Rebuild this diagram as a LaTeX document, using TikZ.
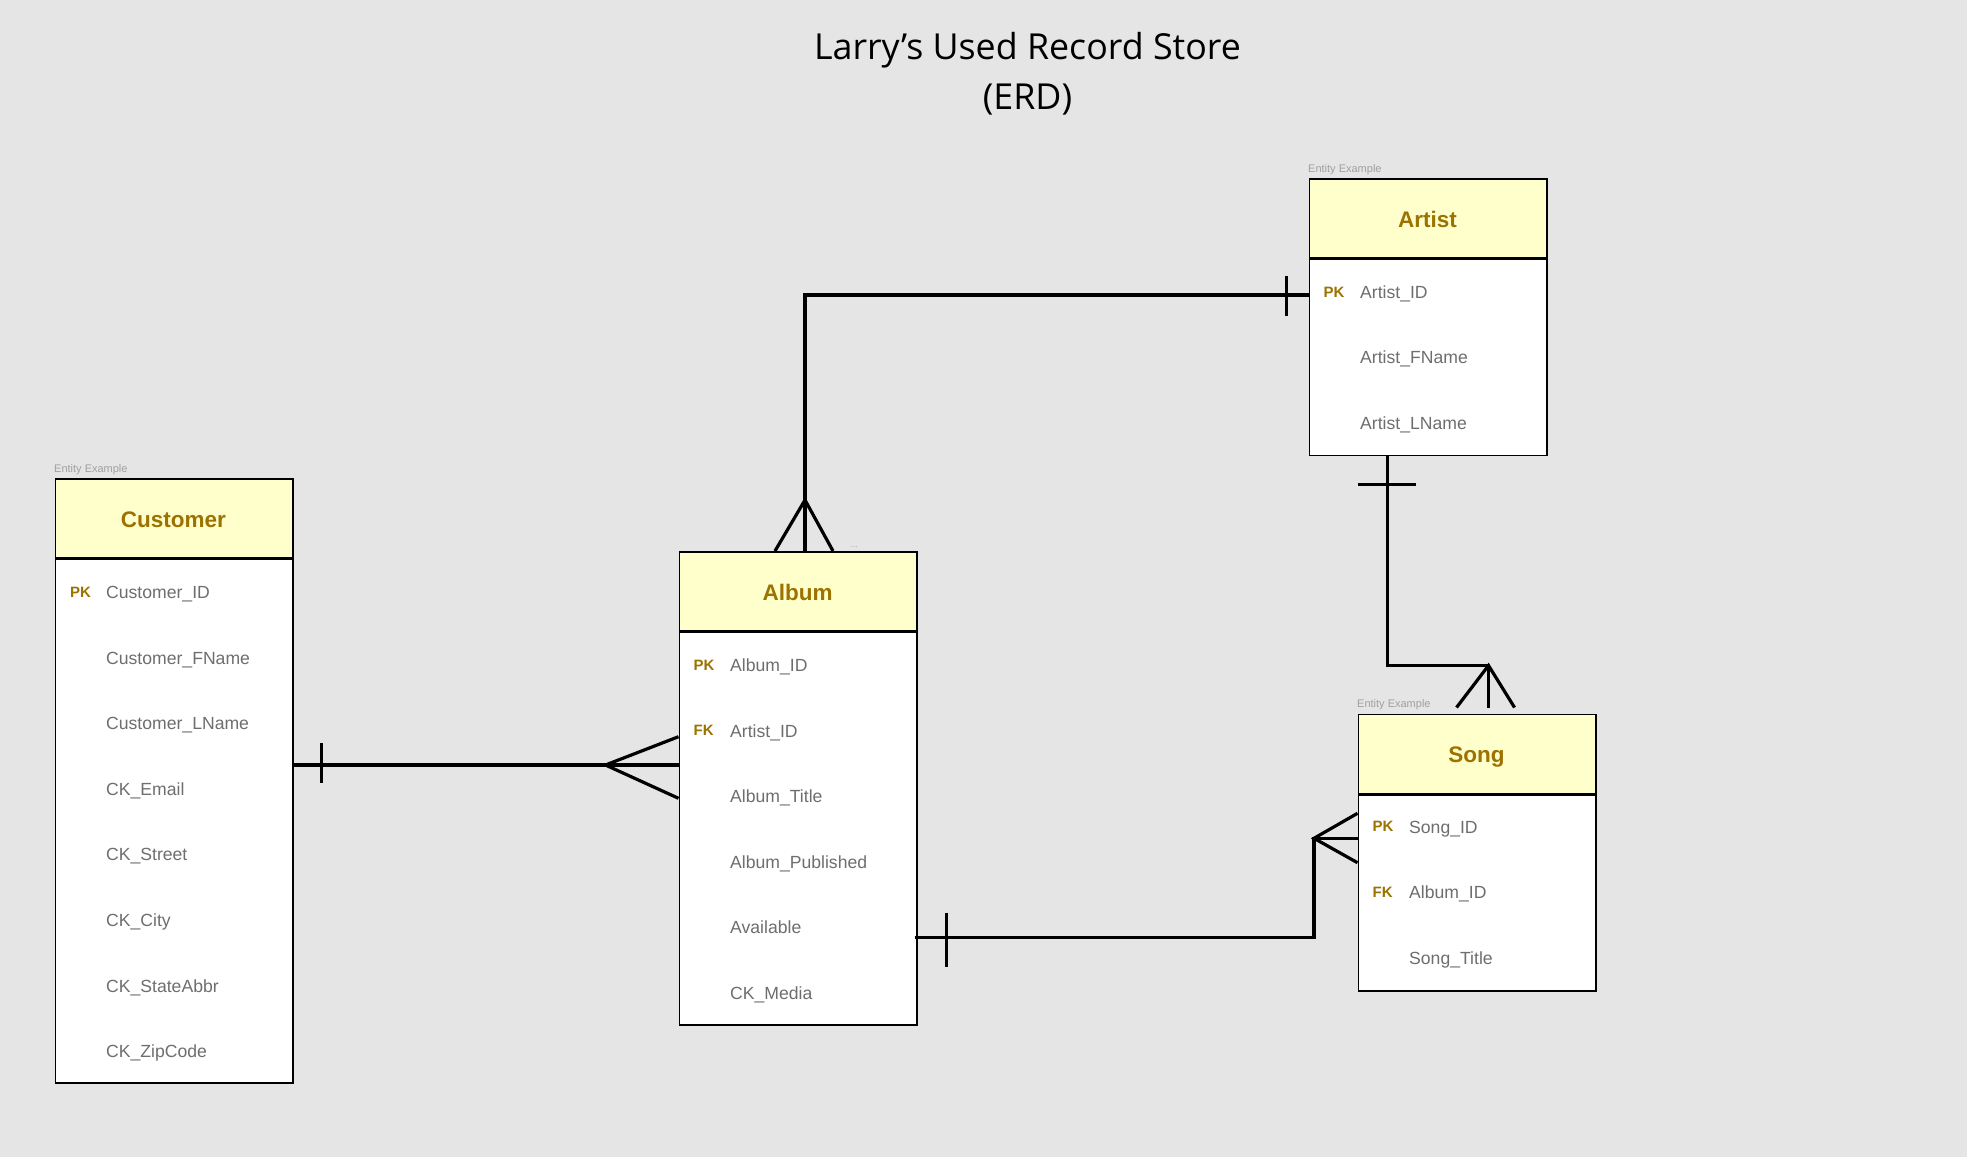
\documentclass[tikz,border=0pt]{standalone}
\usepackage{fontspec}
\setmainfont{Liberation Sans}
\newfontfamily\titlefont{Open Sans}
\usetikzlibrary{calc}
\definecolor{bg}{HTML}{E5E5E5}
\definecolor{hdrfill}{HTML}{FFFFCC}
\definecolor{gold}{HTML}{9C7200}
\definecolor{attrgray}{HTML}{6E6E6E}
\definecolor{taggray}{HTML}{A0A0A0}
\begin{document}
\begin{tikzpicture}[x=1pt,y=-1pt,
  hdr/.style={draw=black, line width=1.6pt, fill=hdrfill, minimum width=237.5pt, minimum height=79pt, anchor=north west, inner sep=0pt},
  bodybox/.style={draw=black, line width=1.6pt, fill=white, minimum width=237.5pt, anchor=north west, inner sep=0pt},
  enttitle/.style={font=\fontsize{22.5}{27}\selectfont\bfseries, text=gold, anchor=base, inner sep=0pt},
  attr/.style={font=\fontsize{17.6}{21}\selectfont, text=attrgray, anchor=base west, inner sep=0pt},
  keytag/.style={font=\fontsize{15}{17}\selectfont\bfseries, text=gold, anchor=base west, inner sep=0pt},
  tag/.style={font=\fontsize{11}{13}\selectfont, text=taggray, anchor=base west, inner sep=0pt},
  maintitle/.style={font=\titlefont\fontsize{35.8}{40}\selectfont, text=black, anchor=base, inner sep=0pt},
  conn/.style={line width=3.2pt, draw=black},
]
\fill[bg] (0,0) rectangle (1967,1157);
\useasboundingbox (0,0) rectangle (1967,1157);

% title
\node[maintitle] (t1) at (1027.5,59) {Larry’s Used Record Store};
\node[maintitle] (t2) at (1027.5,109) {(ERD)};

% Customer
\node[tag] (custtag) at (54,472) {Entity Example};
\node[hdr] (cust-h) at (54.5,478) {};
\node[enttitle] (cust-t) at (173.5,527) {Customer};
\node[bodybox, minimum height=523.5pt] (cust-b) at (cust-h.south west) {};
\node[keytag] (cust-pk) at (70,597) {PK};
\node[attr] (c1) at (106,598.5) {Customer\_ID};
\node[attr] (c2) at (106,664.1) {Customer\_FName};
\node[attr] (c3) at (106,729.7) {Customer\_LName};
\node[attr] (c4) at (106,795.3) {CK\_Email};
\node[attr] (c5) at (106,860.9) {CK\_Street};
\node[attr] (c6) at (106,926.5) {CK\_City};
\node[attr] (c7) at (106,992.1) {CK\_StateAbbr};
\node[attr] (c8) at (106,1057.7) {CK\_ZipCode};

% Album
\node[tag, font=\fontsize{8}{9}\selectfont] (albdots) at (851,547) {...};
\node[hdr] (alb-h) at (678.5,551) {};
\node[enttitle] (alb-t) at (797.5,600) {Album};
\node[bodybox, minimum height=392.5pt] (alb-b) at (alb-h.south west) {};
\node[keytag] (alb-pk) at (693.5,670) {PK};
\node[keytag] (alb-fk) at (693.5,735.6) {FK};
\node[attr] (a1) at (730,671.5) {Album\_ID};
\node[attr] (a2) at (730,737.1) {Artist\_ID};
\node[attr] (a3) at (730,802.7) {Album\_Title};
\node[attr] (a4) at (730,868.3) {Album\_Published};
\node[attr] (a5) at (730,933.9) {Available};
\node[attr] (a6) at (730,999.5) {CK\_Media};

% Artist
\node[tag] (arttag) at (1308,172) {Entity Example};
\node[hdr] (art-h) at (1308.5,178) {};
\node[enttitle] (art-t) at (1427.5,227) {Artist};
\node[bodybox, minimum height=196pt] (art-b) at (art-h.south west) {};
\node[keytag] (art-pk) at (1323.5,297) {PK};
\node[attr] (r1) at (1360,298.2) {Artist\_ID};
\node[attr] (r2) at (1360,363.8) {Artist\_FName};
\node[attr] (r3) at (1360,429.4) {Artist\_LName};

% Song
\node[tag] (songtag) at (1357,707.5) {Entity Example};
\node[hdr] (song-h) at (1357.5,713.5) {};
\node[enttitle] (song-t) at (1476.5,762) {Song};
\node[bodybox, minimum height=196pt] (song-b) at (song-h.south west) {};
\node[keytag] (song-pk) at (1372.5,831.5) {PK};
\node[keytag] (song-fk) at (1372.5,897.1) {FK};
\node[attr] (s1) at (1409,833) {Song\_ID};
\node[attr] (s2) at (1409,898.6) {Album\_ID};
\node[attr] (s3) at (1409,964.2) {Song\_Title};

% Customer -- Album (one to many)
\coordinate (ca1) at (cust-b.east |- 0,765);
\coordinate (ac1) at (alb-b.west |- 0,765);
\draw[conn] (ca1) -- (ac1);
\draw[conn] ($(ca1)+(28,-22)$) -- ($(ca1)+(28,18)$);
\draw[conn] (alb-b.west |- 0,736.7) -- ($(ac1)+(-73,0)$) -- (alb-b.west |- 0,798.3);

% Artist -- Album (one to many)
\coordinate (ar1) at (art-b.west |- 0,295);
\coordinate (al1) at ($(alb-h.north west)+(126.5,0)$);
\draw[conn] (ar1) -| (al1);
\draw[conn] ($(ar1)+(-22,-19)$) -- ($(ar1)+(-22,21)$);
\draw[conn] ($(al1)+(-30,0)$) -- ($(al1)+(0,-51)$) -- ($(al1)+(28,0)$);

% Artist -- Song (one to many)
\coordinate (as1) at ($(art-b.south west)+(79,0)$);
\coordinate (sg1) at ($(song-h.north west)+(131,-6)$);
\draw[conn] (as1) |- ($(sg1)+(0,-42)$) -- (sg1);
\draw[conn] ($(as1)+(-30,28)$) -- ($(as1)+(28,28)$);
\draw[conn] ($(sg1)+(-32,0)$) -- ($(sg1)+(0,-42)$) -- ($(sg1)+(26,0)$);

% Album -- Song (one to many)
\coordinate (ab1) at ($(alb-b.east |- 0,937.7)+(-3,0)$);
\coordinate (sl1) at (song-b.west |- 0,838.3);
\draw[conn] (ab1) -| ($(sl1)+(-43.5,0)$) -- (sl1);
\draw[conn] ($(ab1)+(32,-25)$) -- ($(ab1)+(32,29)$);
\draw[conn] (song-b.west |- 0,813.3) -- ($(sl1)+(-43.5,0)$) -- (song-b.west |- 0,862.7);
\end{tikzpicture}
\end{document}
